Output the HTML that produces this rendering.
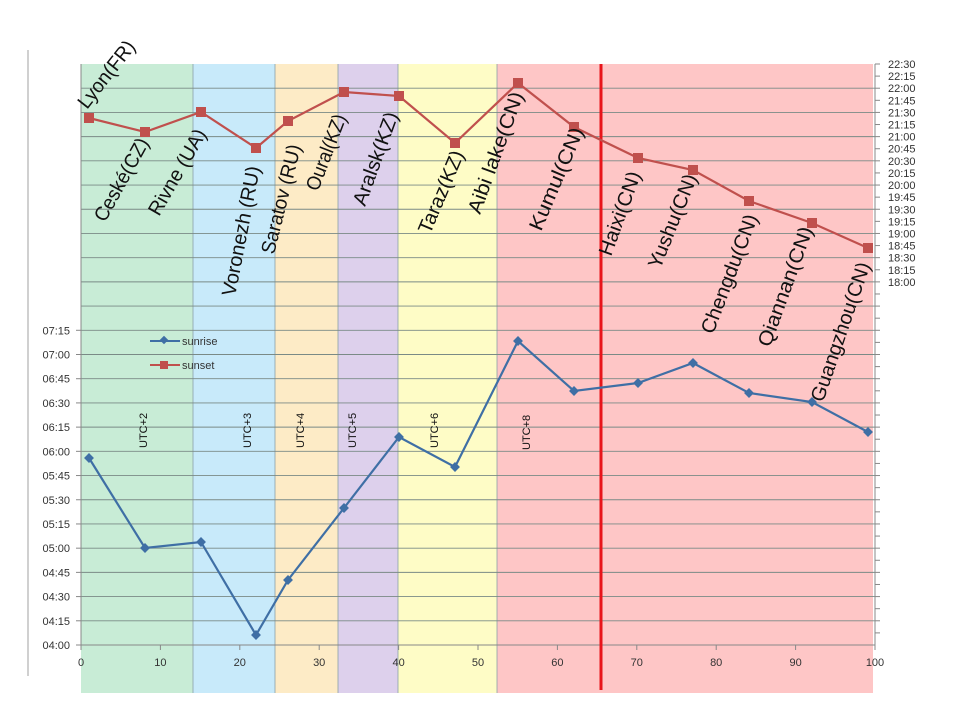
<!DOCTYPE html>
<html><head><meta charset="utf-8"><style>
html,body{margin:0;padding:0;background:#fff;}
svg{display:block;font-family:"Liberation Sans",sans-serif;}
</style></head><body>
<svg width="960" height="720" viewBox="0 0 960 720" xmlns="http://www.w3.org/2000/svg">
<line x1="28" y1="50" x2="28" y2="676" stroke="#d0d0d0" stroke-width="2"/>
<rect x="81" y="64" width="112" height="629" fill="#c8ecd6"/>
<rect x="193" y="64" width="82" height="629" fill="#c8eafa"/>
<rect x="275" y="64" width="63" height="629" fill="#fdebc6"/>
<rect x="338" y="64" width="60" height="629" fill="#ddd0ec"/>
<rect x="398" y="64" width="99" height="629" fill="#fefcc6"/>
<rect x="497" y="64" width="376" height="629" fill="#fec6c6"/>
<g stroke="#8aa0a8" stroke-width="0.8">
<line x1="193" y1="64" x2="193" y2="693"/><line x1="275" y1="64" x2="275" y2="693"/>
<line x1="338" y1="64" x2="338" y2="693"/><line x1="398" y1="64" x2="398" y2="693"/>
<line x1="497" y1="64" x2="497" y2="693"/>
</g>
<g id="grid" stroke="#7a8a86" stroke-width="0.9"></g>
<line x1="81" y1="64" x2="81" y2="645" stroke="#888" stroke-width="1"/>
<line x1="875" y1="64" x2="875" y2="645" stroke="#888" stroke-width="1"/>
<line x1="81" y1="645" x2="875" y2="645" stroke="#888" stroke-width="1"/>
<line x1="601" y1="64" x2="601" y2="690" stroke="#e8141a" stroke-width="3"/>
<g id="ticks" stroke="#888" stroke-width="1"></g>
<g id="labels" font-size="11" fill="#333"></g>
<polyline fill="none" stroke="#3f6fa5" stroke-width="2.2" points="89,458 145,548 201,542 256,635 288,580 344,508 399,437 455,467 518,341 574,391 638,383 693,363 749,393 812,402 868,432"/>
<g id="sr" fill="#3f6fa5"></g>
<polyline fill="none" stroke="#c0504d" stroke-width="2.2" points="89,118 145,132 201,112 256,148 288,121 344,92 399,96 455,143 518,83 574,127 638,158 693,170 749,201 812,223 868,248"/>
<g id="ss" fill="#c0504d"></g>
<line x1="150" y1="341" x2="180" y2="341" stroke="#3f6fa5" stroke-width="2"/>
<rect x="161" y="337" width="6" height="6" transform="rotate(45 164 340)" fill="#3f6fa5"/>
<text x="182" y="345" font-size="11" fill="#333">sunrise</text>
<line x1="150" y1="365" x2="180" y2="365" stroke="#c0504d" stroke-width="2"/>
<rect x="160" y="361" width="8" height="8" fill="#c0504d"/>
<text x="182" y="369" font-size="11" fill="#333">sunset</text>
<g font-size="11" fill="#111">
<text transform="translate(147,448) rotate(-90)">UTC+2</text>
<text transform="translate(251,448) rotate(-90)">UTC+3</text>
<text transform="translate(304,448) rotate(-90)">UTC+4</text>
<text transform="translate(356,448) rotate(-90)">UTC+5</text>
<text transform="translate(438,448) rotate(-90)">UTC+6</text>
<text transform="translate(530,450) rotate(-90)">UTC+8</text>
</g>
<g font-size="20" fill="#111" lengthAdjust="spacingAndGlyphs">
<text transform="translate(87,110) rotate(-52)" textLength="80" lengthAdjust="spacingAndGlyphs">Lyon(FR)</text>
<text transform="translate(105,223) rotate(-61)" textLength="92" lengthAdjust="spacingAndGlyphs">Ceské(CZ)</text>
<text transform="translate(159,217) rotate(-60)" textLength="96" lengthAdjust="spacingAndGlyphs">Rivne (UA)</text>
<text transform="translate(235,297) rotate(-79)" textLength="132" lengthAdjust="spacingAndGlyphs">Voronezh (RU)</text>
<text transform="translate(274,255) rotate(-76)" textLength="112" lengthAdjust="spacingAndGlyphs">Saratov (RU)</text>
<text transform="translate(318,192) rotate(-69)" textLength="80" lengthAdjust="spacingAndGlyphs">Oural(KZ)</text>
<text transform="translate(365,207) rotate(-70)" textLength="98" lengthAdjust="spacingAndGlyphs">Aralsk(KZ)</text>
<text transform="translate(430,235) rotate(-67)" textLength="88" lengthAdjust="spacingAndGlyphs">Taraz(KZ)</text>
<text transform="translate(480,215) rotate(-70)" textLength="128" lengthAdjust="spacingAndGlyphs">Aibi lake(CN)</text>
<text transform="translate(541,232) rotate(-67)" textLength="110" lengthAdjust="spacingAndGlyphs">Kumul(CN)</text>
<text transform="translate(611,257) rotate(-70)" textLength="88" lengthAdjust="spacingAndGlyphs">Haixi(CN)</text>
<text transform="translate(660,270) rotate(-68)" textLength="100" lengthAdjust="spacingAndGlyphs">Yushu(CN)</text>
<text transform="translate(713,335) rotate(-69)" textLength="126" lengthAdjust="spacingAndGlyphs">Chengdu(CN)</text>
<text transform="translate(770,348) rotate(-70)" textLength="126" lengthAdjust="spacingAndGlyphs">Qiannan(CN)</text>
<text transform="translate(823,403) rotate(-71)" textLength="146" lengthAdjust="spacingAndGlyphs">Guangzhou(CN)</text>
</g>
<script>
var ns="http://www.w3.org/2000/svg";
function el(t,a,p){var e=document.createElementNS(ns,t);for(var k in a)e.setAttribute(k,a[k]);document.getElementById(p).appendChild(e);return e;}
var g0=64,st=(645-64)/24;
for(var i=1;i<24;i++){var y=g0+i*st;el('line',{x1:81,y1:y,x2:875,y2:y},'grid');}
for(var i=0;i<=13;i++){var y=645-i*st;var m=240+i*15;var s=("0"+Math.floor(m/60)).slice(-2)+":"+("0"+m%60).slice(-2);
 var t=el('text',{x:70,y:y+4,'text-anchor':'end'},'labels');t.textContent=s;el('line',{x1:76,y1:y,x2:81,y2:y},'ticks');}
var rs=st/2;
for(var i=0;i<=18;i++){var y=64+i*rs;var m=1350-i*15;var s=Math.floor(m/60)+":"+("0"+m%60).slice(-2);
 var t=el('text',{x:888,y:y+4},'labels');t.textContent=s;}
for(var i=0;i<48;i++){var y=64+i*rs;el('line',{x1:875,y1:y,x2:880,y2:y},'ticks');}
for(var i=0;i<=10;i++){var x=81+i*79.4;var t=el('text',{x:x,y:666,'text-anchor':'middle'},'labels');t.textContent=i*10;el('line',{x1:x,y1:645,x2:x,y2:650},'ticks');}
var sr=[[89,458],[145,548],[201,542],[256,635],[288,580],[344,508],[399,437],[455,467],[518,341],[574,391],[638,383],[693,363],[749,393],[812,402],[868,432]];
sr.forEach(function(p){el('rect',{x:p[0]-3.5,y:p[1]-3.5,width:7,height:7,transform:'rotate(45 '+p[0]+' '+p[1]+')'},'sr');});
var ss=[[89,118],[145,132],[201,112],[256,148],[288,121],[344,92],[399,96],[455,143],[518,83],[574,127],[638,158],[693,170],[749,201],[812,223],[868,248]];
ss.forEach(function(p){el('rect',{x:p[0]-5,y:p[1]-5,width:10,height:10},'ss');});
</script>
</svg>
</body></html>
